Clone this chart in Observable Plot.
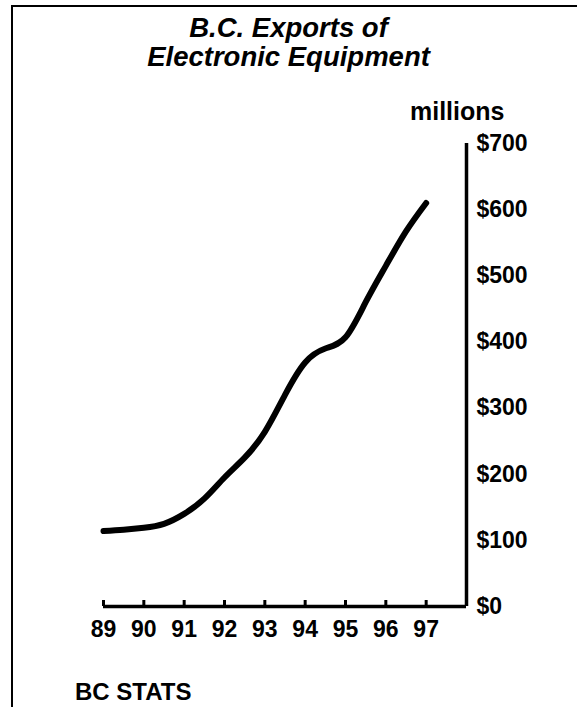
<!DOCTYPE html>
<html>
<head>
<meta charset="utf-8">
<script src="https://cdn.jsdelivr.net/npm/d3@7"></script>
<script src="https://cdn.jsdelivr.net/npm/@observablehq/plot@0.6"></script>
<style>
  html, body { margin: 0; padding: 0; background: #fff; }
  body { width: 577px; height: 707px; position: relative; overflow: hidden;
         font-family: "Liberation Sans", Arial, sans-serif; color: #000; }
  #frame { position: absolute; left: 11px; top: 5px; width: 566px; height: 702px;
           border-left: 2px solid #000; border-top: 2px solid #000; box-sizing: border-box; }
  #chart { position: absolute; left: 0; top: 0; }
  .t { position: absolute; font-weight: bold; white-space: nowrap; }
  #title { left: 0; width: 577px; top: 13px; text-align: center; font-size: 27.5px;
           line-height: 29px; font-style: italic; }
  #unit { left: 410px; top: 99px; font-size: 25px; line-height: 25px; }
  #source { left: 75px; top: 680px; font-size: 24px; line-height: 24px; }
</style>
</head>
<body>
<div id="frame"></div>
<div id="chart"></div>
<div class="t" id="title">B.C. Exports of<br>Electronic Equipment</div>
<div class="t" id="unit">millions</div>
<div class="t" id="source">BC STATS</div>
<script>
// Values (year, millions of dollars)
const years  = [89, 89.5, 90, 90.5, 91, 91.5, 92, 92.5, 93, 93.5, 94, 94.5, 95, 95.5, 96, 96.5, 97];
const values = [114, 116, 119, 125, 140, 163, 195, 225, 264, 320, 369, 390, 407, 460, 515, 567, 610];
const xTicks = [89, 90, 91, 92, 93, 94, 95, 96, 97];
const xTickLabels = ["89", "90", "91", "92", "93", "94", "95", "96", "97"];
const yTicks = [0, 100, 200, 300, 400, 500, 600, 700];
const yTickLabels = ["$0", "$100", "$200", "$300", "$400", "$500", "$600", "$700"];

const data = years.map((y, i) => ({year: y, value: values[i]}));

const chart = Plot.plot({
  width: 577,
  height: 707,
  marginLeft: 103,
  marginRight: 111,
  marginTop: 143,
  marginBottom: 101,
  style: {fontFamily: "'Liberation Sans', Arial, sans-serif", fontWeight: "bold", fontSize: "23px", color: "#000", background: "transparent", overflow: "visible"},
  x: {domain: [89, 98], label: null},
  y: {domain: [0, 700], label: null},
  marks: [
    Plot.axisX({ticks: xTicks, tickSize: -6, strokeWidth: 3, tickFormat: () => "", label: null}),
    Plot.axisX({ticks: xTicks, tickSize: 0, tickPadding: 14, fontSize: 23, fontWeight: "bold", fill: "#000",
                tickFormat: d => xTickLabels[xTicks.indexOf(d)], label: null}),
    Plot.axisY({ticks: yTicks, anchor: "right", tickSize: 0, tickPadding: 10, fontSize: 23, fontWeight: "bold", fill: "#000",
                tickFormat: d => yTickLabels[yTicks.indexOf(d)], label: null}),
    Plot.ruleY([0], {stroke: "#000", strokeWidth: 3.5}),
    Plot.ruleX([98], {stroke: "#000", strokeWidth: 3.5}),
    Plot.line(data, {x: "year", y: "value", curve: "natural", stroke: "#000", strokeWidth: 6,
                     strokeLinecap: "round", strokeLinejoin: "round"})
  ]
});
document.getElementById("chart").appendChild(chart);
</script>
</body>
</html>
